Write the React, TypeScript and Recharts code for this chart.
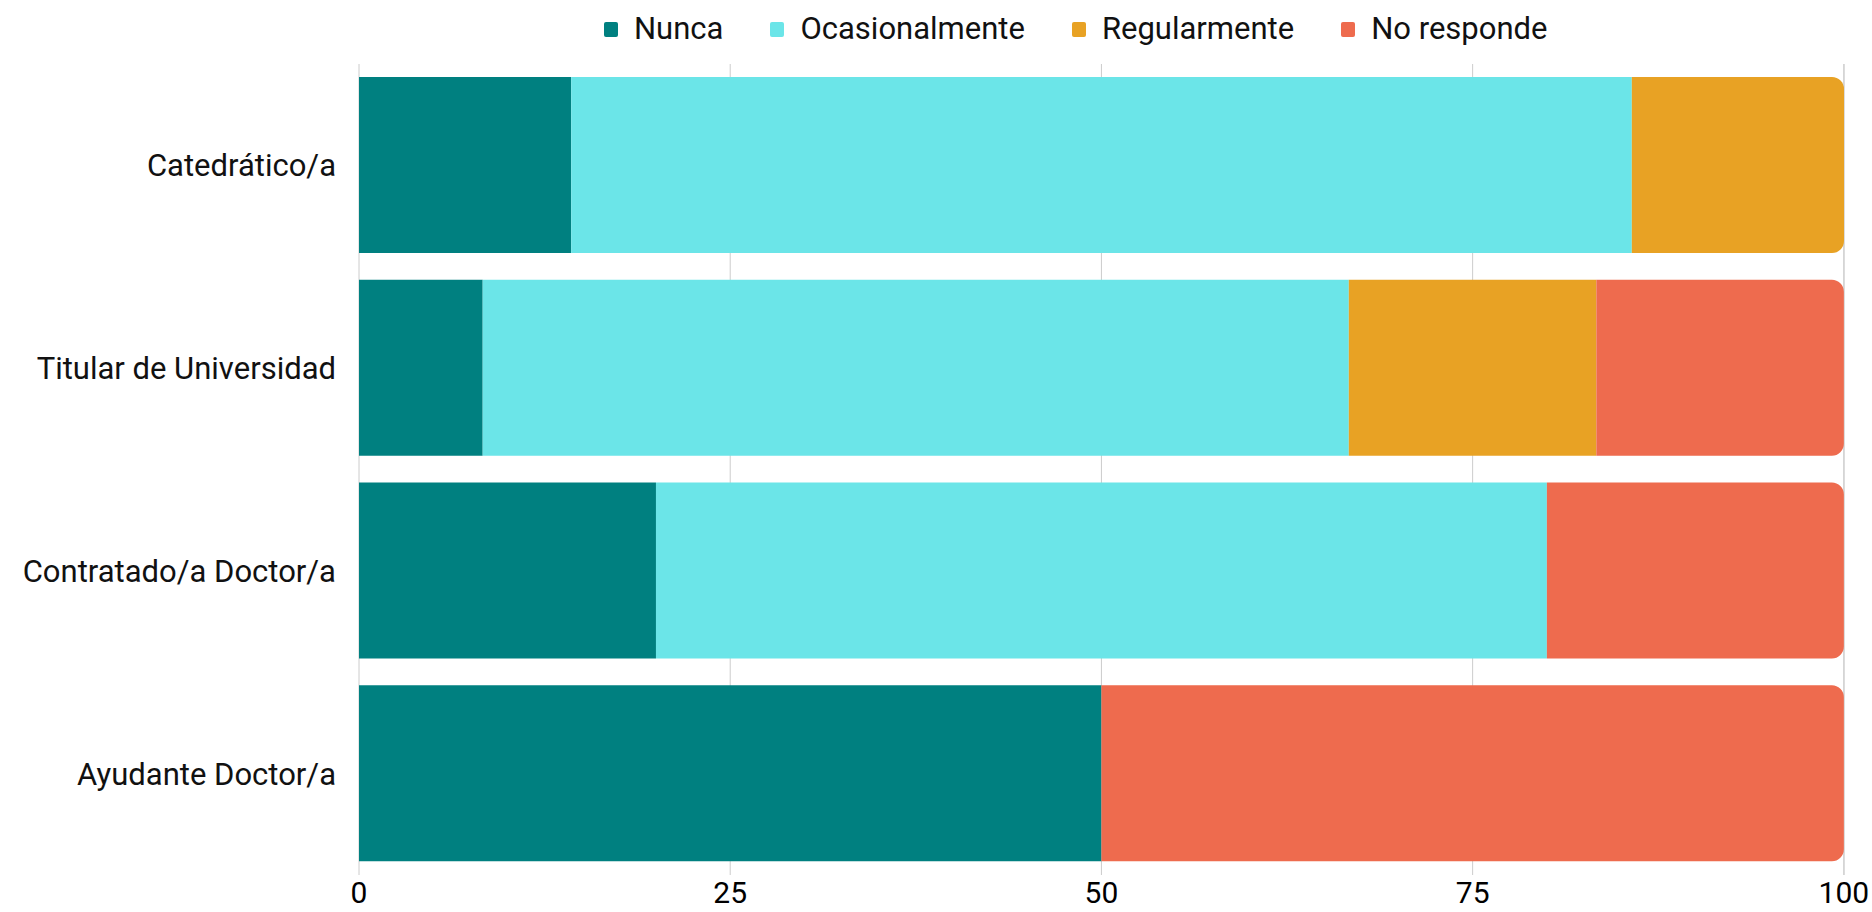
import React from "react";
import {
  BarChart,
  Bar,
  XAxis,
  YAxis,
  CartesianGrid,
  Rectangle,
} from "recharts";

const categories = [
  "Catedrático/a",
  "Titular de Universidad",
  "Contratado/a Doctor/a",
  "Ayudante Doctor/a",
];
const nunca = [14.29, 8.33, 20, 50];
const ocasionalmente = [71.43, 58.33, 60, 0];
const regularmente = [14.29, 16.67, 0, 0];
const noResponde = [0, 16.67, 20, 50];
const xTicks = [0, 25, 50, 75, 100];

const series = [
  { key: "nunca", name: "Nunca", color: "#008080" },
  { key: "ocasionalmente", name: "Ocasionalmente", color: "#6BE5E8" },
  { key: "regularmente", name: "Regularmente", color: "#E8A224" },
  { key: "noResponde", name: "No responde", color: "#EE6B4E" },
];

const data = categories.map((c, i) => ({
  cat: c,
  nunca: nunca[i],
  ocasionalmente: ocasionalmente[i],
  regularmente: regularmente[i],
  noResponde: noResponde[i],
}));

const FONT = "Roboto, 'DejaVu Sans', sans-serif";

// last non-zero segment of a row gets rounded right corners
function lastKey(row: any) {
  let k = "";
  for (const s of series) if (row[s.key] > 0) k = s.key;
  return k;
}

function LegendBox() {
  return (
    <div
      style={{
        position: "absolute",
        top: 11,
        left: 604,
        display: "flex",
        gap: 47,
        fontFamily: FONT,
        fontSize: 31,
        lineHeight: "36px",
        color: "#111",
        whiteSpace: "nowrap",
      }}
    >
      {series.map((s) => (
        <div key={s.key} style={{ display: "flex", alignItems: "center" }}>
          <span
            style={{
              width: 14,
              height: 15,
              background: s.color,
              borderRadius: 2,
              marginRight: 16,
              display: "inline-block",
            }}
          />
          {s.name}
        </div>
      ))}
    </div>
  );
}

export default function App() {
  return (
    <div style={{ position: "absolute", left: 0, top: 0, width: 1872, height: 912, background: "#fff" }}>
      <LegendBox />
      <BarChart
        width={1872}
        height={912}
        data={data}
        layout="vertical"
        margin={{ top: 64, right: 28, bottom: 0, left: 0 }}
        barSize={176}
      >
        <CartesianGrid horizontal={false} stroke="#cccccc" />
        <XAxis
          type="number"
          domain={[0, 100]}
          ticks={xTicks}
          axisLine={false}
          tickLine={false}
          tickSize={0}
          tickMargin={7}
          height={37}
          tick={{ fill: "#000", fontSize: 30, fontFamily: FONT }}
        />
        <YAxis
          type="category"
          dataKey="cat"
          width={359}
          axisLine={false}
          tickLine={false}
          tickSize={0}
          tickMargin={23}
          tick={{ fill: "#111", fontSize: 31, fontFamily: FONT }}
        />
        {series.map((s) => (
          <Bar
            key={s.key}
            dataKey={s.key}
            name={s.name}
            stackId="a"
            fill={s.color}
            isAnimationActive={false}
            shape={(props: any) => (
              <Rectangle
                {...props}
                radius={lastKey(data[props.index]) === s.key ? [0, 12, 12, 0] : 0}
              />
            )}
          />
        ))}
      </BarChart>
    </div>
  );
}
